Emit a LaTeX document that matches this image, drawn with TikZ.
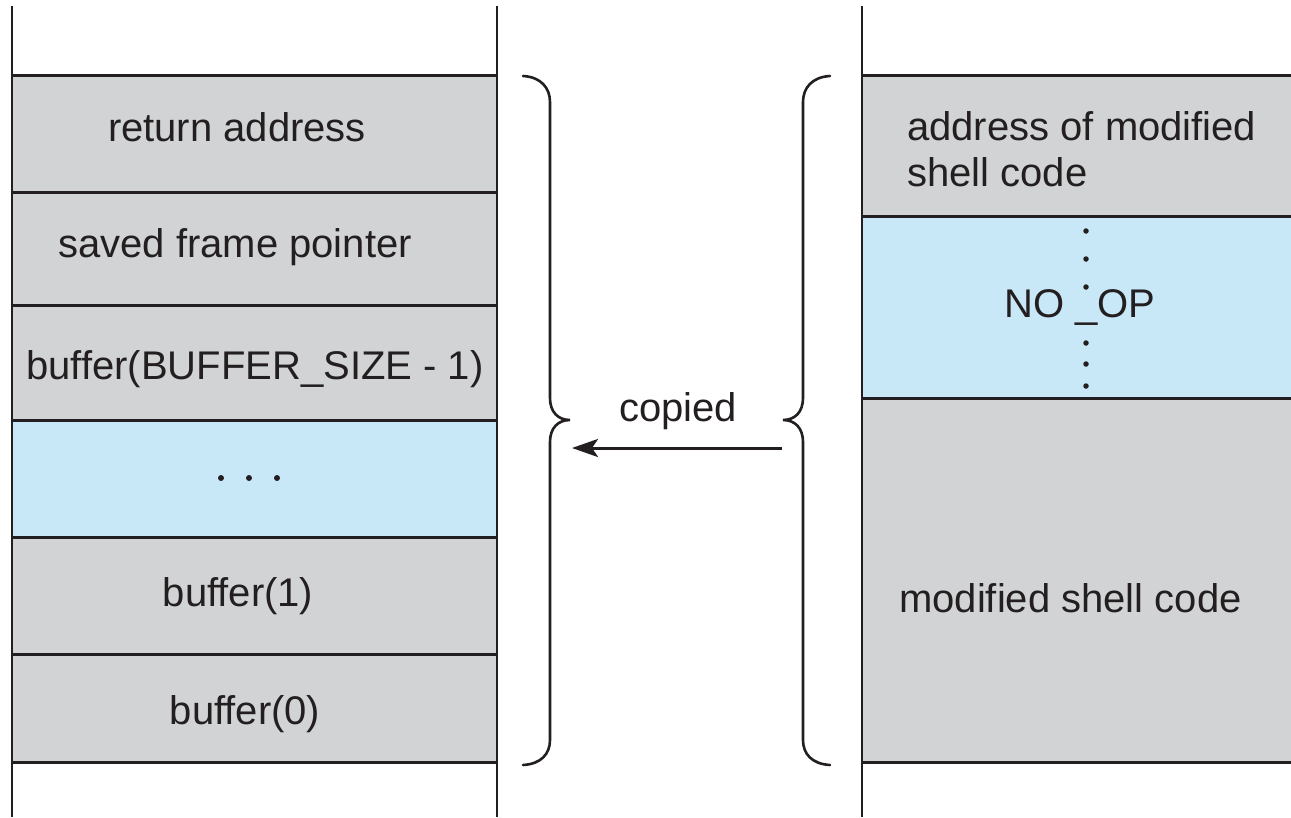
\documentclass[tikz,border=0pt]{standalone}
\usepackage{fontspec}
\setmainfont{Liberation Sans}
\usetikzlibrary{arrows.meta}
\definecolor{cellgray}{HTML}{D1D3D4}
\definecolor{cellblue}{HTML}{C8E8F8}
\definecolor{ink}{HTML}{231F20}
\begin{document}
\begin{tikzpicture}[x=1pt,y=-1pt,
  hline/.style={draw=ink,line width=3pt},
  vline/.style={draw=ink,line width=2pt},
  brace/.style={draw=ink,line width=2.6pt,line cap=round},
  lbl/.style={font=\fontsize{40}{46}\selectfont,text=ink,inner sep=0pt},
  dot/.style={circle,fill=ink,inner sep=0pt,minimum size=6pt}]
\useasboundingbox (0,0) rectangle (1291,817);
% left column fills
\fill[cellgray] (12,75) rectangle (497,420);
\fill[cellblue] (12,420) rectangle (497,537);
\fill[cellgray] (12,537) rectangle (497,762);
% right column fills
\fill[cellgray] (862,75) rectangle (1291,216);
\fill[cellblue] (862,216) rectangle (1291,398);
\fill[cellgray] (862,398) rectangle (1291,762);
% horizontal lines left
\foreach \y in {75,192,305,420,537,654,762}
  \draw[hline] (12,\y) -- (497,\y);
% horizontal lines right
\foreach \y in {75,216,398,762}
  \draw[hline] (862,\y) -- (1291,\y);
% vertical lines
\draw[vline] (12,6) -- (12,817);
\draw[vline] (497,6) -- (497,817);
\draw[vline] (862,6) -- (862,817);
% left texts
\node[lbl] (ra) at (237,127) {return address};
\node[lbl] (sfp) at (235,247) {saved frame pointer};
\node[lbl] (bsz) at (255,369) {buffer(BUFFER\_SIZE - 1)};
\node[dot] (d1) at (221,478) {};
\node[dot] (d2) at (249,478) {};
\node[dot] (d3) at (277,478) {};
\node[lbl] (b1) at (238,596) {buffer(1)};
\node[lbl] (b0) at (245,714) {buffer(0)};
% right texts
\node[lbl,anchor=west,align=left] (addr) at (907,149) {address of modified\\shell code};
\node[lbl] (noop) at (1080,308) {NO \_OP};
\foreach \yy/\nm in {231/e1,259/e2,287/e3,343/e4,364/e5,386/e6}
  \node[dot,minimum size=5.5pt] (\nm) at (1086,\yy) {};
\node[lbl,anchor=west] (msc) at (899,598) {modified shell code};
% braces
\draw[brace] (523,76) .. controls (541,77) and (550,88) .. (550,102)
  -- (550,398) .. controls (550,412) and (558,420) .. (570,420)
  .. controls (558,420) and (550,428) .. (550,442)
  -- (550,740) .. controls (550,754) and (541,764) .. (523,765);
\draw[brace] (830,76) .. controls (812,77) and (803,88) .. (803,102)
  -- (803,398) .. controls (803,412) and (795,420) .. (783,420)
  .. controls (795,420) and (803,428) .. (803,442)
  -- (803,740) .. controls (803,754) and (812,764) .. (830,765);
% arrow
\coordinate (src) at (782,448);
\coordinate (dst) at (572,448);
\draw[draw=ink,line width=3pt,-{Stealth[length=26pt,width=18pt,inset=6pt]}] (src) -- (dst);
\node[lbl] (cp) at (678,411) {copied};
\end{tikzpicture}
\end{document}
